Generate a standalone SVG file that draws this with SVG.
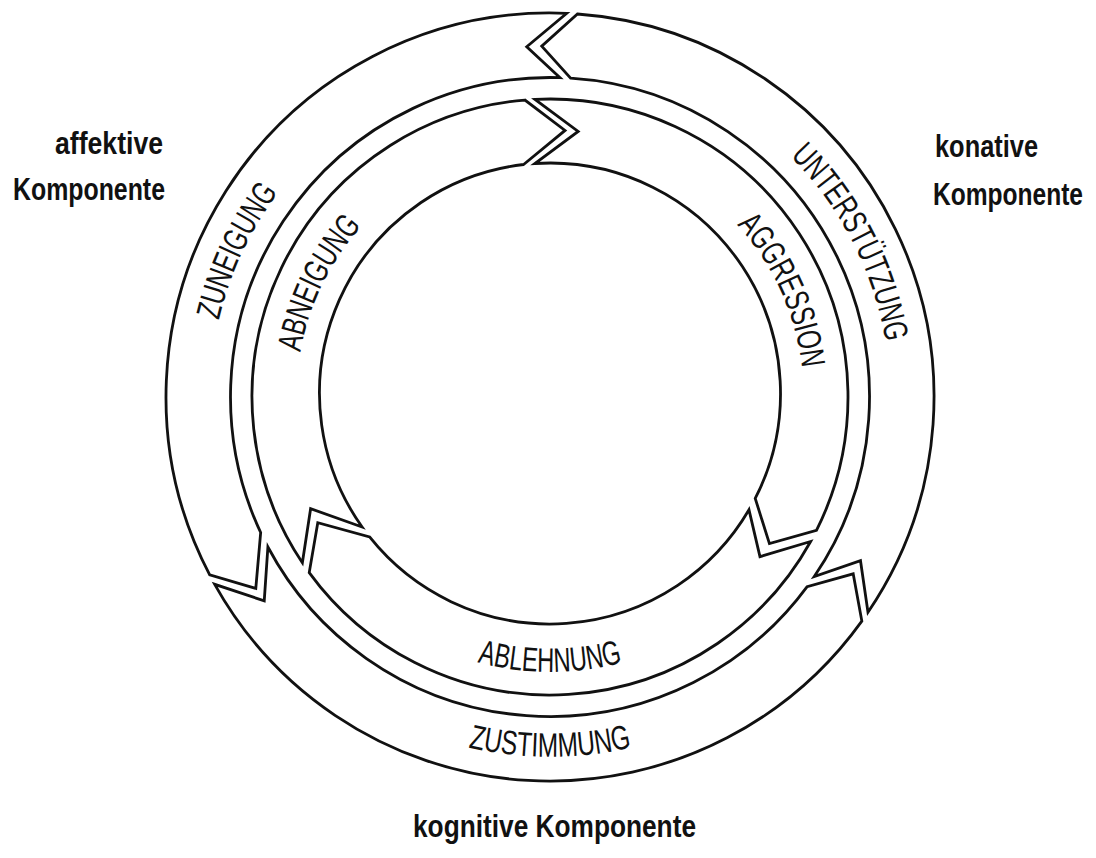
<svg xmlns="http://www.w3.org/2000/svg" width="1096" height="858" viewBox="0 0 1096 858">
<style>
.seg{fill:#fff;stroke:#111;stroke-width:2.8;stroke-linejoin:miter}
.lab{font-family:"Liberation Sans",Arial,sans-serif;font-size:34px;fill:#111}
.comp{font-family:"Liberation Sans",Arial,sans-serif;font-weight:bold;font-size:31px;fill:#111}
</style>
<defs>
<path id="pZun" d="M221.58,485 A340,340 0 0 1 406.31,88.85"/>
<path id="pAbn" d="M304.03,457.33 A253.5,253.5 0 0 1 446.89,164.42"/>
<path id="pUnt" d="M681.76,83.57 A340,340 0 0 1 881.55,472.32"/>
<path id="pAgg" d="M659.53,167.39 A253.5,253.5 0 0 1 794.16,464.17"/>
<path id="pZus" d="M318.71,672.62 A360,360 0 0 0 781.29,672.62"/>
<path id="pAbl" d="M372.59,607.43 A276,276 0 0 0 727.41,607.43"/>
</defs>
<rect width="1096" height="858" fill="#fff"/>
<g id="zuneigung">
<path class="seg" d="M209.70,574.91 A384,384 0 0 1 566.75,13.36 L526.74,46.77 L560.04,77.66 A319.5,319.5 0 0 0 260.67,532.53 L255.79,588.42 Z"/>
<text class="lab"><textPath href="#pZun" startOffset="50%" text-anchor="middle" textLength="142" lengthAdjust="spacingAndGlyphs">ZUNEIGUNG</textPath></text>
</g>
<g id="unterstuetzung">
<path class="seg" d="M577.46,13.98 A384,384 0 0 1 867.97,612.32 L860.49,560.70 L814.25,576.58 A319.5,319.5 0 0 0 570.62,78.16 L541.73,46.10 Z"/>
<text class="lab"><textPath href="#pUnt" startOffset="50%" text-anchor="middle" textLength="212" lengthAdjust="spacingAndGlyphs">UNTERSTÜTZUNG</textPath></text>
</g>
<g id="zustimmung">
<path class="seg" d="M861.84,621.08 A384,384 0 0 1 214.69,584.34 L264.24,600.83 L267.90,547.0 A319.5,319.5 0 0 0 807.16,586.60 L853.19,573.82 Z"/>
<text class="lab"><textPath href="#pZus" startOffset="50%" text-anchor="middle" textLength="165" lengthAdjust="spacingAndGlyphs">ZUSTIMMUNG</textPath></text>
</g>
<g id="abneigung">
<path class="seg" d="M302.37,562.78 A298,298 0 0 1 524.91,100.06 L565.02,130.43 L523.63,164.51 A230.5,230.5 0 0 0 362.11,527.02 L310.61,508.67 Z"/>
<text class="lab"><textPath href="#pAbn" startOffset="50%" text-anchor="middle" textLength="142" lengthAdjust="spacingAndGlyphs">ABNEIGUNG</textPath></text>
</g>
<g id="aggression">
<path class="seg" d="M534.97,99.38 A298,298 0 0 1 816.46,530.43 L769.44,543.59 L755.22,498.46 A230.5,230.5 0 0 0 534.88,163.50 L578.16,131.50 Z"/>
<text class="lab"><textPath href="#pAgg" startOffset="50%" text-anchor="middle" textLength="160" lengthAdjust="spacingAndGlyphs">AGGRESSION</textPath></text>
</g>
<g id="ablehnung">
<path class="seg" d="M810.64,541.47 A298,298 0 0 1 309.22,572.58 L317.78,522.66 L369.61,536.99 A230.5,230.5 0 0 0 749.00,509.82 L759.96,556.69 Z"/>
<text class="lab"><textPath href="#pAbl" startOffset="50%" text-anchor="middle" textLength="147" lengthAdjust="spacingAndGlyphs">ABLEHNUNG</textPath></text>
</g>
<g id="affektiv">
<text class="comp" transform="translate(55,154) scale(0.8,1)" textLength="135" lengthAdjust="spacingAndGlyphs">affektive</text>
<text class="comp" transform="translate(13,200) scale(0.8,1)" textLength="190" lengthAdjust="spacingAndGlyphs">Komponente</text>
</g>
<g id="konativ">
<text class="comp" transform="translate(935,157) scale(0.8,1)" textLength="128.75" lengthAdjust="spacingAndGlyphs">konative</text>
<text class="comp" transform="translate(933,205) scale(0.8,1)" textLength="187.5" lengthAdjust="spacingAndGlyphs">Komponente</text>
</g>
<g id="kognitiv">
<text class="comp" transform="translate(413,837) scale(0.8,1)" textLength="353.75" lengthAdjust="spacingAndGlyphs">kognitive Komponente</text>
</g>
<g id="connectors"/>
</svg>
